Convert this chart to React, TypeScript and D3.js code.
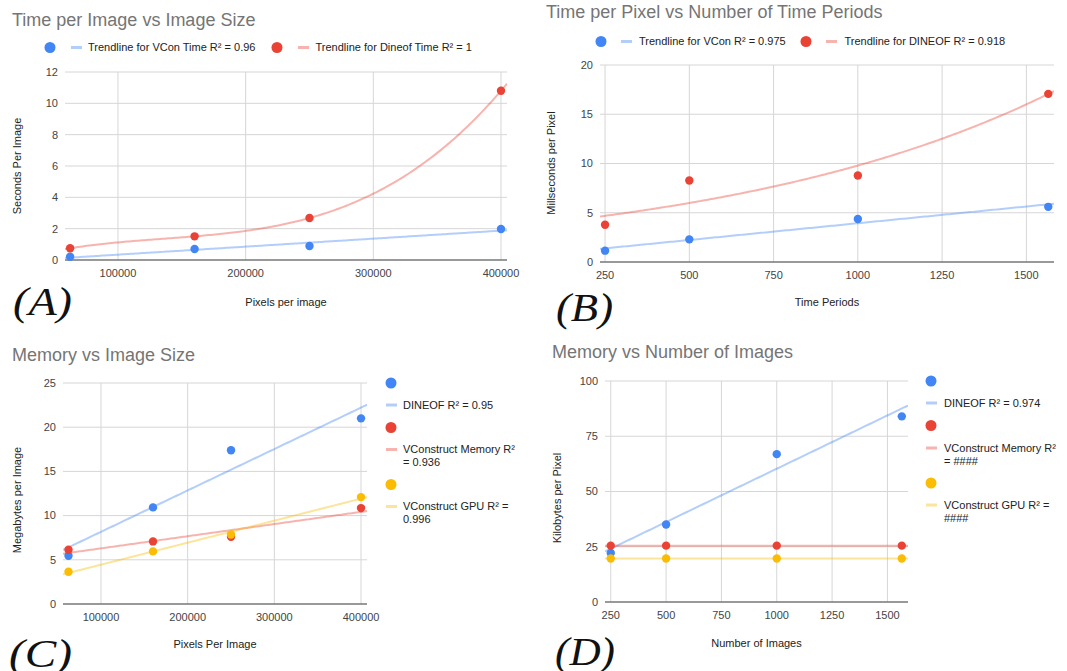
import React, { useEffect, useRef } from "react";
import * as d3 from "d3";

// ---- data ----
const pixelsPerImage = [62500, 160000, 250000, 400000];
const vconTimeA = [0.21, 0.7, 0.89, 1.98];
const dineofTimeA = [0.75, 1.51, 2.68, 10.8];

const timePeriods = [250, 500, 1000, 1565];
const vconTimeB = [1.15, 2.3, 4.36, 5.6];
const dineofTimeB = [3.78, 8.28, 8.78, 17.07];

const dineofMemC = [5.46, 10.93, 17.4, 21.0];
const vcMemC = [6.14, 7.08, 7.6, 10.85];
const vcGpuC = [3.65, 5.95, 7.87, 12.09];

const numImages = [250, 500, 1000, 1565];
const dineofMemD = [22.2, 35.1, 66.9, 84.0];
const vcMemD = [25.5, 25.5, 25.5, 25.5];
const vcGpuD = [19.7, 19.7, 19.7, 19.7];

const pixelTicks = [100000, 200000, 300000, 400000];
const countTicks = [250, 500, 750, 1000, 1250, 1500];
const yTicksA = [0, 2, 4, 6, 8, 10, 12];
const yTicksB = [0, 5, 10, 15, 20];
const yTicksC = [0, 5, 10, 15, 20, 25];
const yTicksD = [0, 25, 50, 75, 100];

const BLUE = "#4285F4";
const RED = "#EA4335";
const YELLOW = "#FBBC04";
const FONT = "'Liberation Sans', Arial, sans-serif";

// trendline fits
const linearFit = (xs: number[], ys: number[]) => {
  const mx = d3.mean(xs)!, my = d3.mean(ys)!;
  const sxy = d3.sum(xs, (x, i) => (x - mx) * (ys[i] - my));
  const sxx = d3.sum(xs, x => (x - mx) ** 2);
  const b = sxx ? sxy / sxx : 0;
  return (x: number) => my + b * (x - mx);
};
const expFit = (xs: number[], ys: number[]) => {
  const f = linearFit(xs, ys.map(Math.log));
  return (x: number) => Math.exp(f(x));
};
const polyFit = (xs: number[], ys: number[]) => (x: number) =>
  d3.sum(xs, (xi, i) => {
    let t = ys[i];
    xs.forEach((xj, j) => { if (j !== i) t *= (x - xj) / (xi - xj); });
    return t;
  });

const panels = [
  {
    id: "A", title: "Time per Image vs Image Size", titleX: 12, titleY: 26,
    left: 65, right: 507, top: 72, bottom: 260,
    xDomain: [58500, 404700], yDomain: [0, 12], xTicks: pixelTicks, yTicks: yTicksA,
    xLabel: "Pixels per image", xLabelY: 306, yLabel: "Seconds Per Image", yLabelX: 21, yLabelY: 166,
    tag: "(A)", tagX: 13, tagY: 315, tagW: 59,
    series: [
      { xs: pixelsPerImage, ys: vconTimeA, color: BLUE, fit: linearFit },
      { xs: pixelsPerImage, ys: dineofTimeA, color: RED, fit: polyFit },
    ],
    legend: [
      { kind: "dot", x: 50, y: 47.5, color: BLUE },
      { kind: "seg", x: 71, y: 47.5, color: BLUE, text: ["Trendline for VCon Time R² = 0.96"], tx: 88 },
      { kind: "dot", x: 277, y: 47.5, color: RED },
      { kind: "seg", x: 298, y: 47.5, color: RED, text: ["Trendline for Dineof Time R² = 1"], tx: 315.5 },
    ],
  },
  {
    id: "B", title: "Time per Pixel vs Number of Time Periods", titleX: 546, titleY: 18,
    left: 600, right: 1054, top: 65, bottom: 262,
    xDomain: [235, 1582], yDomain: [0, 20], xTicks: countTicks, yTicks: yTicksB,
    xLabel: "Time Periods", xLabelY: 306, yLabel: "Millseconds per Pixel", yLabelX: 555, yLabelY: 163,
    tag: "(B)", tagX: 556, tagY: 321, tagW: 57,
    series: [
      { xs: timePeriods, ys: vconTimeB, color: BLUE, fit: linearFit },
      { xs: timePeriods, ys: dineofTimeB, color: RED, fit: expFit },
    ],
    legend: [
      { kind: "dot", x: 601, y: 41.5, color: BLUE },
      { kind: "seg", x: 621, y: 41.5, color: BLUE, text: ["Trendline for VCon R² = 0.975"], tx: 639 },
      { kind: "dot", x: 806, y: 41.5, color: RED },
      { kind: "seg", x: 826, y: 41.5, color: RED, text: ["Trendline for DINEOF R² = 0.918"], tx: 844.5 },
    ],
  },
  {
    id: "C", title: "Memory vs Image Size", titleX: 12, titleY: 361,
    left: 63, right: 367, top: 383, bottom: 604,
    xDomain: [56160, 406900], yDomain: [0, 25], xTicks: pixelTicks, yTicks: yTicksC,
    xLabel: "Pixels Per Image", xLabelY: 648, yLabel: "Megabytes per Image", yLabelX: 21, yLabelY: 500,
    tag: "(C)", tagX: 9, tagY: 667, tagW: 63,
    series: [
      { xs: pixelsPerImage, ys: dineofMemC, color: BLUE, fit: linearFit },
      { xs: pixelsPerImage, ys: vcMemC, color: RED, fit: linearFit },
      { xs: pixelsPerImage, ys: vcGpuC, color: YELLOW, fit: linearFit },
    ],
    legend: [
      { kind: "dot", x: 391, y: 383, color: BLUE },
      { kind: "seg", x: 386, y: 405, color: BLUE, text: ["DINEOF R² = 0.95"], tx: 403 },
      { kind: "dot", x: 391, y: 427.5, color: RED },
      { kind: "seg", x: 386, y: 449.5, color: RED, text: ["VConstruct Memory R²", "= 0.936"], tx: 403 },
      { kind: "dot", x: 391, y: 484.5, color: YELLOW },
      { kind: "seg", x: 386, y: 506.5, color: YELLOW, text: ["VConstruct GPU R² =", "0.996"], tx: 403 },
    ],
  },
  {
    id: "D", title: "Memory vs Number of Images", titleX: 552, titleY: 358,
    left: 605, right: 908, top: 381, bottom: 602,
    xDomain: [224, 1593], yDomain: [0, 100], xTicks: countTicks, yTicks: yTicksD,
    xLabel: "Number of Images", xLabelY: 647, yLabel: "Kilobytes per Pixel", yLabelX: 561, yLabelY: 498,
    tag: "(D)", tagX: 555, tagY: 665, tagW: 60,
    series: [
      { xs: numImages, ys: dineofMemD, color: BLUE, fit: linearFit },
      { xs: numImages, ys: vcMemD, color: RED, fit: linearFit },
      { xs: numImages, ys: vcGpuD, color: YELLOW, fit: linearFit },
    ],
    legend: [
      { kind: "dot", x: 931, y: 381, color: BLUE },
      { kind: "seg", x: 926, y: 403, color: BLUE, text: ["DINEOF R² = 0.974"], tx: 944 },
      { kind: "dot", x: 931, y: 425.5, color: RED },
      { kind: "seg", x: 926, y: 448, color: RED, text: ["VConstruct Memory R²", "= ####"], tx: 944 },
      { kind: "dot", x: 931, y: 483, color: YELLOW },
      { kind: "seg", x: 926, y: 505, color: YELLOW, text: ["VConstruct GPU R² =", "####"], tx: 944 },
    ],
  },
];

const App = () => {
  const svgRef = useRef<SVGSVGElement>(null);

  useEffect(() => {
    const svg = d3.select(svgRef.current);
    svg.selectAll("*").remove();
    svg.append("rect").attr("width", 1067).attr("height", 671).attr("fill", "#fff");

    panels.forEach(p => {
      const g = svg.append("g").attr("font-family", FONT);
      const x = d3.scaleLinear().domain(p.xDomain).range([p.left, p.right]);
      const y = d3.scaleLinear().domain(p.yDomain).range([p.bottom, p.top]);

      // title
      g.append("text").attr("x", p.titleX).attr("y", p.titleY)
        .attr("font-size", 18).attr("fill", "#757575").text(p.title);

      // grid
      g.append("g").selectAll("line").data(p.yTicks.filter(t => t !== 0)).join("line")
        .attr("x1", p.left).attr("x2", p.right).attr("y1", d => y(d)).attr("y2", d => y(d))
        .attr("stroke", "#d6d6d6").attr("stroke-width", 1);
      g.append("g").selectAll("line").data(p.xTicks).join("line")
        .attr("x1", d => x(d)).attr("x2", d => x(d)).attr("y1", p.top).attr("y2", p.bottom)
        .attr("stroke", "#d6d6d6").attr("stroke-width", 1);
      g.append("line").attr("x1", p.left).attr("x2", p.right)
        .attr("y1", y(0)).attr("y2", y(0)).attr("stroke", "#777").attr("stroke-width", 1.3);

      // tick labels
      g.append("g").selectAll("text").data(p.yTicks).join("text")
        .attr("x", p.left - 7).attr("y", d => y(d)).attr("dy", "0.35em")
        .attr("text-anchor", "end").attr("font-size", 11).attr("fill", "#444").text(d => d);
      g.append("g").selectAll("text").data(p.xTicks).join("text")
        .attr("x", d => x(d)).attr("y", p.bottom + 17)
        .attr("text-anchor", "middle").attr("font-size", 11).attr("fill", "#444").text(d => d);

      // axis titles
      g.append("text").attr("x", (p.left + p.right) / 2).attr("y", p.xLabelY)
        .attr("text-anchor", "middle").attr("font-size", 11).attr("fill", "#222").text(p.xLabel);
      g.append("text").attr("transform", `translate(${p.yLabelX},${p.yLabelY}) rotate(-90)`)
        .attr("text-anchor", "middle").attr("font-size", 11).attr("fill", "#222").text(p.yLabel);

      // trendlines (clipped to plot)
      const clipId = `clip-${p.id}`;
      svg.append("clipPath").attr("id", clipId).append("rect")
        .attr("x", p.left).attr("y", p.top - 1).attr("width", p.right - p.left).attr("height", p.bottom - p.top + 1);
      const samples = d3.range(0, 201).map(i => p.xDomain[0] + (p.xDomain[1] - p.xDomain[0]) * i / 200);
      p.series.forEach(s => {
        const f = s.fit(s.xs, s.ys);
        const line = d3.line<number>().x(v => x(v)).y(v => y(f(v)));
        g.append("path").attr("clip-path", `url(#${clipId})`).attr("d", line(samples))
          .attr("fill", "none").attr("stroke", s.color).attr("stroke-opacity", 0.4).attr("stroke-width", 2);
      });

      // points
      p.series.forEach(s => {
        g.append("g").selectAll("circle").data(s.xs).join("circle")
          .attr("cx", d => x(d)).attr("cy", (d, i) => y(s.ys[i])).attr("r", 4.2).attr("fill", s.color);
      });

      // legend
      p.legend.forEach(l => {
        if (l.kind === "dot") {
          g.append("circle").attr("cx", l.x).attr("cy", l.y).attr("r", 5.5).attr("fill", l.color);
        } else {
          g.append("line").attr("x1", l.x).attr("x2", l.x + 11).attr("y1", l.y).attr("y2", l.y)
            .attr("stroke", l.color).attr("stroke-opacity", 0.4).attr("stroke-width", 3);
          (l.text || []).forEach((t, i) => {
            g.append("text").attr("x", l.tx).attr("y", l.y + i * 13).attr("dy", "0.35em")
              .attr("font-size", 11).attr("fill", "#222").text(t);
          });
        }
      });

      // panel tag
      g.append("text").attr("x", p.tagX).attr("y", p.tagY)
        .attr("font-family", "'Liberation Serif', 'Times New Roman', serif").attr("font-style", "italic")
        .attr("font-size", 40).attr("fill", "#111")
        .attr("textLength", p.tagW).attr("lengthAdjust", "spacingAndGlyphs").text(p.tag);
    });
  }, []);

  return (
    <svg ref={svgRef} width={1067} height={671}
      style={{ position: "absolute", left: 0, top: 0, display: "block" }} />
  );
};

export default App;
